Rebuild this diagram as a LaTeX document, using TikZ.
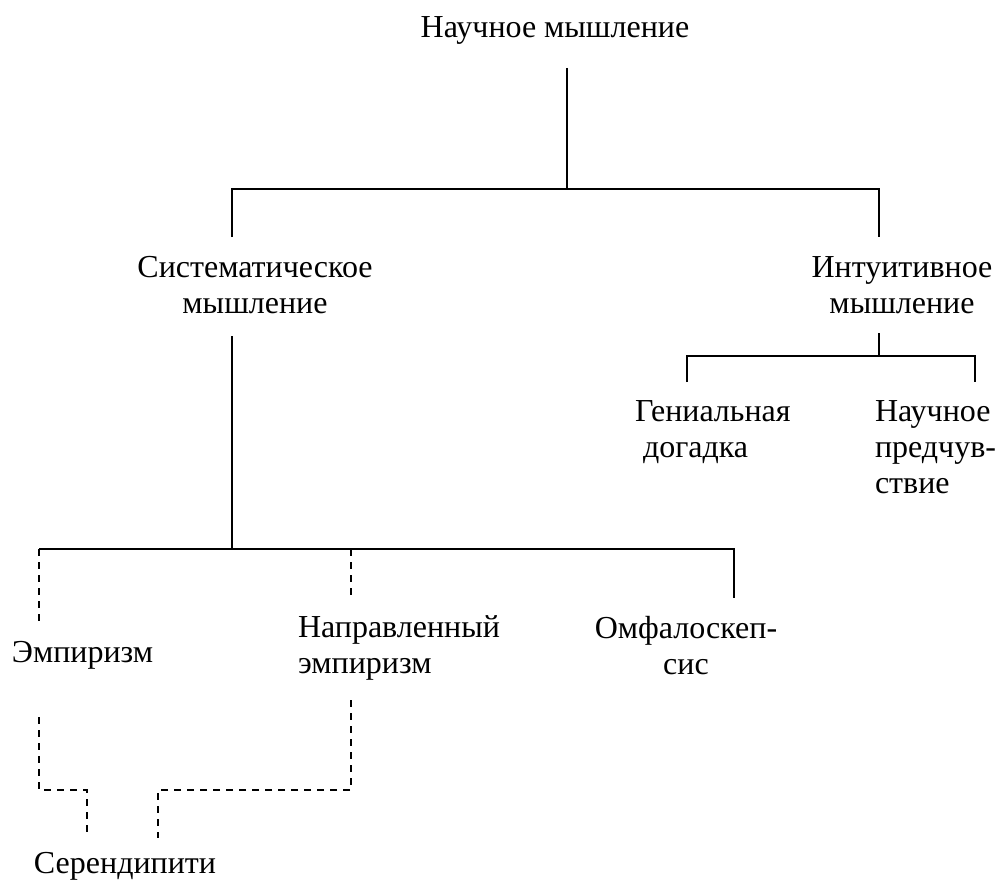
\documentclass[tikz,border=0pt]{standalone}
\usepackage{fontspec}
\setmainfont{Liberation Serif}
\begin{document}
\begin{tikzpicture}[x=1pt,y=-1pt,
  lbl/.style={inner sep=0pt, outer sep=0pt, font=\fontsize{32}{36}\selectfont},
  link/.style={line width=1.8pt},
  dlink/.style={line width=1.6pt, dash pattern=on 7pt off 6pt}]
\useasboundingbox (0,0) rectangle (997,883);
\newcommand{\lines}[2]{\begin{tabular}[t]{@{}#1@{}}#2\end{tabular}}
\renewcommand{\arraystretch}{1}

% labels
\node[lbl, anchor=base] (root) at (555,38) {Научное мышление};
\node[lbl, anchor=base] (sys) at (255,277) {\lines{c}{Систематическое\\мышление}};
\node[lbl, anchor=base] (intu) at (902,277) {\lines{c}{Интуитивное\\мышление}};
\node[lbl, anchor=base west] (gen) at (635,421) {\lines{l}{Гениальная\\\hspace{8pt}догадка}};
\node[lbl, anchor=base west] (pred) at (875,421) {\lines{l}{Научное\\предчув-\\ствие}};
\node[lbl, anchor=base west] (emp) at (12,662) {Эмпиризм};
\node[lbl, anchor=base west] (dir) at (298,637) {\lines{l}{Направленный\\эмпиризм}};
\node[lbl, anchor=base] (omf) at (686,638) {\lines{c}{Омфалоскеп-\\сис}};
\node[lbl, anchor=base west] (ser) at (34,873) {Серендипити};

% end points of the connectors next to the labels
\coordinate (rootS) at (567,68);
\coordinate (sysN) at (232,237);
\coordinate (intuN) at (879,237);
\coordinate (sysS) at (232,336);
\coordinate (intuS) at (879,333);
\coordinate (genN) at (687,382);
\coordinate (predN) at (975,382);
\coordinate (empN) at (39,622);
\coordinate (dirN) at (351,595);
\coordinate (omfN) at (734,598);
\coordinate (empS) at (39,717);
\coordinate (dirS) at (351,700);
\coordinate (serA) at (87,837);
\coordinate (serB) at (158,838);

% bus lines
\coordinate (bus1) at (567,189);
\coordinate (bus2) at (879,356);
\coordinate (bus3) at (232,549);

\draw[link] (rootS) -- (bus1);
\draw[link] (sysN) |- (bus1) -| (intuN);
\draw[link] (intuS) -- (bus2);
\draw[link] (genN) |- (bus2) -| (predN);
\draw[link] (sysS) -- (bus3);
\draw[link] (empN |- bus3) -- (bus3) -| (omfN);
\draw[dlink] (empN |- bus3) -- (empN);
\draw[dlink] (dirN |- bus3) -- (dirN);

% dashed paths down to the bottom label
\draw[dlink] (empS) |- (87,790) -- (serA);
\draw[dlink] (dirS) |- (158,790) -- (serB);
\end{tikzpicture}
\end{document}
